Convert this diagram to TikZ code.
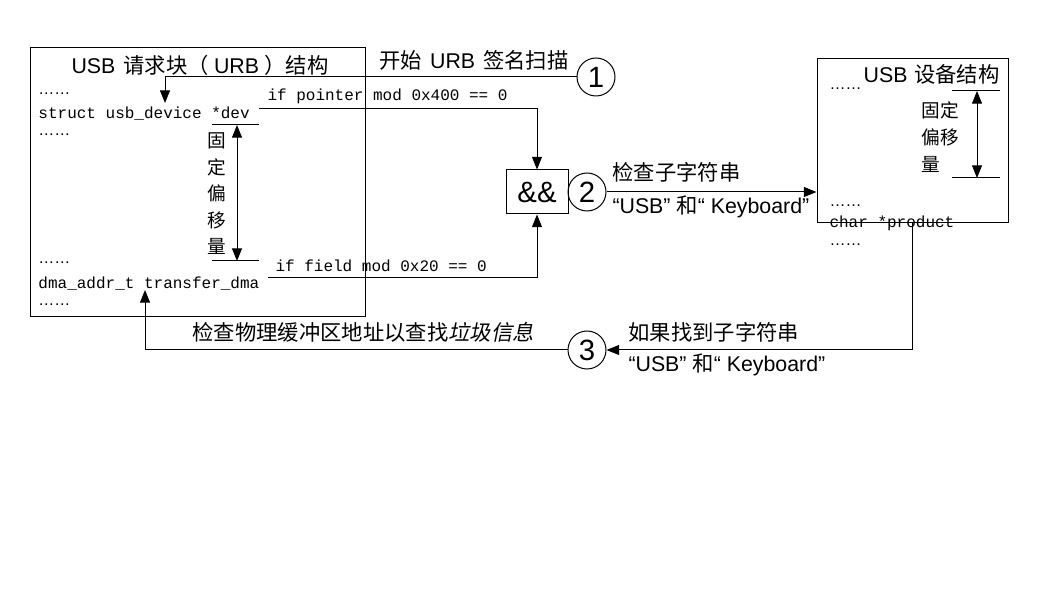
\documentclass[tikz,border=0pt]{standalone}
\usepackage{fontspec}
\setmainfont{Liberation Sans}
\setmonofont{Liberation Mono}
\newfontfamily\cjkf{Noto Sans CJK SC}
\newfontfamily\cjkfit[FakeSlant=0.2]{Noto Sans CJK SC}
\newcommand\zhs[1]{{\cjkf #1}}
\usetikzlibrary{arrows.meta,fit}
\begin{document}
\begin{tikzpicture}[x=0.75pt,y=-0.75pt,
  every path/.style={line width=0.75pt},
  arr/.style={-{Triangle[length=9.5pt,width=7.5pt]}},
  darr/.style={{Triangle[length=9.5pt,width=7.5pt]}-{Triangle[length=9.5pt,width=7.5pt]}},
  boxfit/.style={draw,inner sep=0pt},
  circ/.style={draw,circle,minimum size=28.5pt,inner sep=0pt,font=\fontsize{22}{22}\selectfont},
  lab/.style={anchor=base west,inner sep=0pt,font=\fontsize{16}{16}\selectfont},
  code/.style={anchor=base west,inner sep=0pt,font=\ttfamily\fontsize{12}{12}\selectfont},
  dots/.style={anchor=base west,inner sep=0pt,font=\fontsize{12}{12}\selectfont},
  small/.style={inner sep=0pt,font=\cjkf\fontsize{14}{14}\selectfont},
]
\useasboundingbox (0,0) rectangle (1058,595);

% URB box
\coordinate (urbNW) at (30,48);
\coordinate (urbSE) at (365,317);
\node[boxfit,fit=(urbNW)(urbSE)] (urb) {};
\node[anchor=base,inner sep=0pt,font=\fontsize{16}{16}\selectfont] (urbtitle) at (200,74) {USB\hspace{6pt}\zhs{请求块（}\hspace{4pt}URB\hspace{4pt}\zhs{）结构}};
\node[dots] (d1) at (38,95) {……};
\node[code] (dev) at (38,119) {struct usb\_device *dev};
\node[dots] (d2) at (38,136) {……};
\foreach \c [count=\i] in {固,定,偏,移,量}
  \node[small] (v\i) at (217,114+26.5*\i) {\c};
\node[dots] (d3) at (38,264) {……};
\node[code] (dma) at (38,289) {dma\_addr\_t transfer\_dma};
\node[dots] (d4) at (38,306) {……};

% offset arrow left
\coordinate (lt1) at (212,125); \coordinate (lt2) at (259,125);
\coordinate (lb1) at (212,261); \coordinate (lb2) at (259,261);
\draw (lt1) -- (lt2);
\draw (lb1) -- (lb2);
\coordinate (la1) at (237,125); \coordinate (la2) at (237,261);
\draw[darr] (la1) -- (la2);

% device box
\coordinate (devNW) at (817,59);
\coordinate (devSE) at (1008,223);
\node[boxfit,fit=(devNW)(devSE)] (devbox) {};
\node[anchor=base east,inner sep=0pt,font=\fontsize{16}{16}\selectfont] (devtitle) at (1000,83) {USB\hspace{5pt}\zhs{设备结构}};
\node[dots] (e1) at (829,90) {……};
\node[small,anchor=west] (f1) at (921,110) {固定};
\node[small,anchor=west] (f2) at (921,137) {偏移};
\node[small,anchor=west] (f3) at (921,164) {量};
\node[dots] (e2) at (829,207) {……};
\node[code] (prod) at (829,228) {char *product};
\node[dots] (e3) at (829,246) {……};
\coordinate (rt1) at (952,91); \coordinate (rt2) at (1000,91);
\coordinate (rb1) at (952,178); \coordinate (rb2) at (1000,178);
\draw (rt1) -- (rt2);
\draw (rb1) -- (rb2);
\coordinate (ra1) at (977,91); \coordinate (ra2) at (977,178);
\draw[darr] (ra1) -- (ra2);

% && and circles
\node[draw,minimum width=46.5pt,minimum height=33pt,inner sep=0pt,font=\fontsize{22}{22}\selectfont] (and) at (537,192) {\&\&};
\node[circ] (c1) at (596,77) {1};
\node[circ] (c2) at (587,192) {2};
\node[circ] (c3) at (587,350) {3};

% connector 1
\coordinate (devtgt) at (165,103);
\draw[arr] (c1.west) -| (devtgt);
\node[lab] (l1) at (379,69) {\zhs{开始}\hspace{6pt}URB\hspace{6pt}\zhs{签名扫描}};

% pointer test
\coordinate (devout) at (259,109);
\draw[arr] (devout) -| (and.north);
\node[code] (l2) at (267,101) {if pointer mod 0x400 == 0};

% field test
\coordinate (dmaout) at (268,278);
\draw[arr] (dmaout) -| (and.south);
\node[code] (l3) at (275,272) {if field mod 0x20 == 0};

% check substring
\draw[arr] (c2.east) -- (c2.east -| devbox.west);
\node[lab] (l4) at (612,181) {\zhs{检查子字符串}};
\node[lab] (l5) at (612,214) {“USB” \zhs{和}“ Keyboard”};

% found
\coordinate (prodout) at (912,223);
\draw[arr] (prodout) |- (c3.east);
\node[lab] (l6) at (628,341) {\zhs{如果找到子字符串}};
\node[lab] (l7) at (628,372) {“USB” \zhs{和}“ Keyboard”};

% check buffer
\coordinate (dmatgt) at (145,290);
\draw[arr] (c3.west) -| (dmatgt);
\node[lab] (l8) at (192,341) {\zhs{检查物理缓冲区地址以查找}{\cjkfit 垃圾信息}};
\end{tikzpicture}
\end{document}
